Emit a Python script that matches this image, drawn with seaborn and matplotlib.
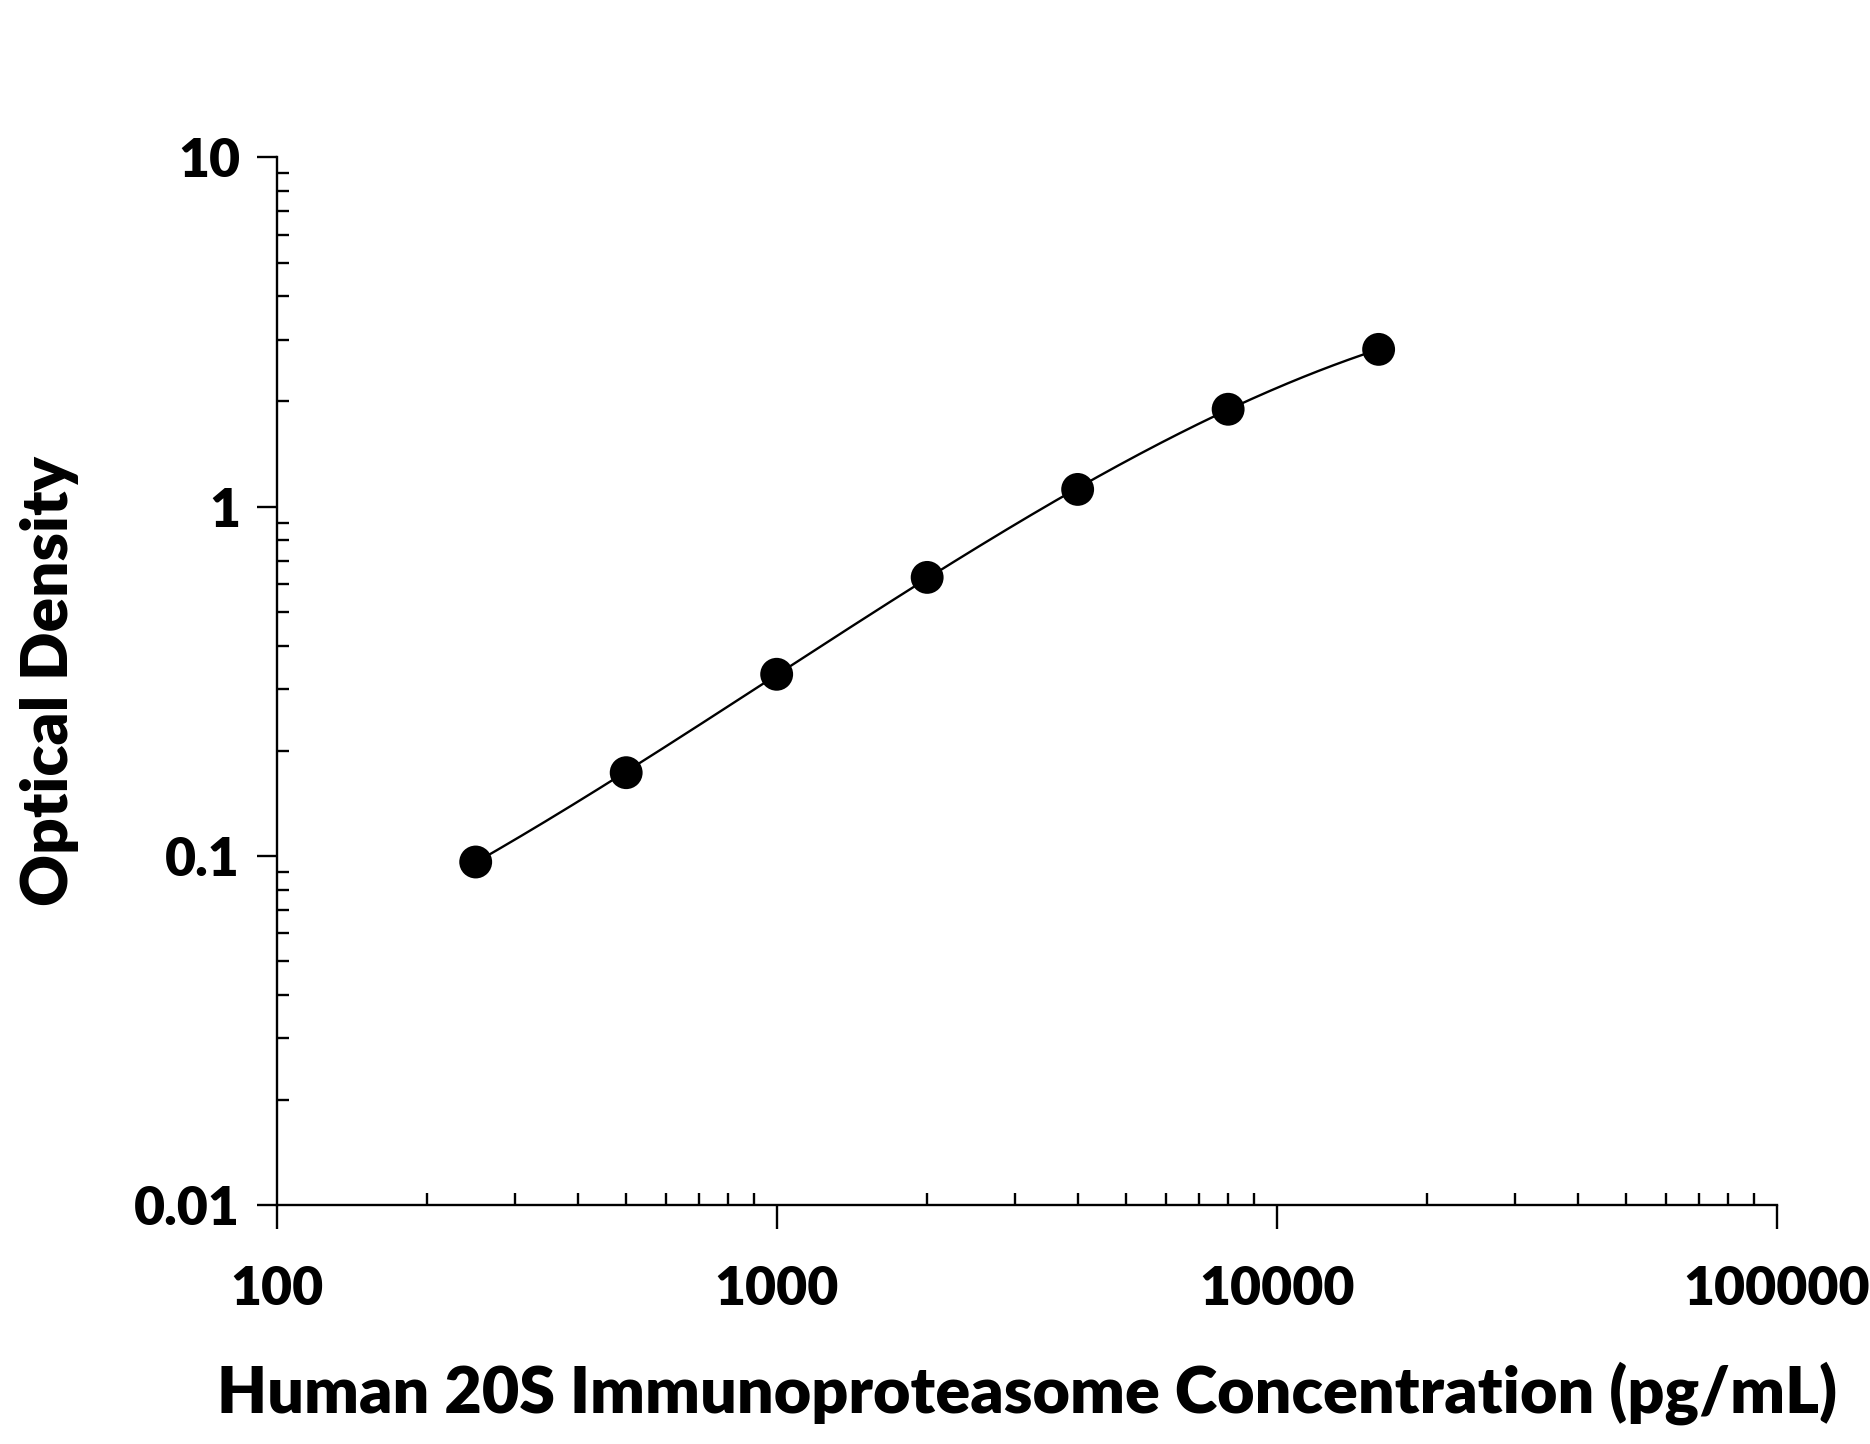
import numpy as np
import matplotlib
matplotlib.use("Agg")
import matplotlib.pyplot as plt
import seaborn as sns
from matplotlib.ticker import LogLocator, FixedLocator, NullFormatter

# ----- data -----
concentration = [250, 500, 1000, 2000, 4000, 8000, 16000]  # pg/mL
optical_density = [0.096, 0.173, 0.331, 0.627, 1.12, 1.90, 2.82]

x_ticks = [100, 1000, 10000, 100000]
x_tick_labels = ["100", "1000", "10000", "100000"]
y_ticks = [0.01, 0.1, 1, 10]
y_tick_labels = ["0.01", "0.1", "1", "10"]

x_label = "Human 20S Immunoproteasome Concentration (pg/mL)"
y_label = "Optical Density"

sns.set_style("ticks")
plt.rcParams["font.family"] = ["Lato", "DejaVu Sans"]
plt.rcParams["text.color"] = "black"
plt.rcParams["axes.labelcolor"] = "black"
plt.rcParams["xtick.color"] = "black"
plt.rcParams["ytick.color"] = "black"

fig = plt.figure(figsize=(18.7, 14.44), dpi=100)
ax = fig.add_axes([0.148, 0.1655, 0.802, 0.7255])

# smooth standard curve: cubic fit in log-log space
lx = np.log10(concentration)
ly = np.log10(optical_density)
coef = np.polyfit(lx, ly, 3)
xs = np.linspace(lx[0], lx[-1], 300)
sns.lineplot(x=10 ** xs, y=10 ** np.polyval(coef, xs), ax=ax,
             color="black", linewidth=1.7, estimator=None, sort=False)
sns.scatterplot(x=concentration, y=optical_density, ax=ax,
                color="black", s=560, edgecolor="none", zorder=3)

ax.set_xscale("log")
ax.set_yscale("log")
ax.set_xlim(100, 100000)
ax.set_ylim(0.01, 10)

ax.xaxis.set_major_locator(FixedLocator(x_ticks))
ax.set_xticklabels(x_tick_labels)
ax.yaxis.set_major_locator(FixedLocator(y_ticks))
ax.set_yticklabels(y_tick_labels)
ax.xaxis.set_minor_locator(LogLocator(base=10, subs=np.arange(2, 10)))
ax.yaxis.set_minor_locator(LogLocator(base=10, subs=np.arange(2, 10)))
ax.xaxis.set_minor_formatter(NullFormatter())
ax.yaxis.set_minor_formatter(NullFormatter())

for side in ["top", "right"]:
    ax.spines[side].set_visible(False)
for side in ["left", "bottom"]:
    ax.spines[side].set_linewidth(1.7)
    ax.spines[side].set_color("black")

ax.tick_params(axis="x", which="major", direction="out", length=17,
               width=1.7, pad=26, labelsize=38.5)
ax.tick_params(axis="y", which="major", direction="out", length=14.5,
               width=1.7, pad=12, labelsize=38.5)
ax.tick_params(axis="both", which="minor", direction="in", length=8.5,
               width=1.7)
for lab in ax.get_xticklabels() + ax.get_yticklabels():
    lab.set_fontweight("heavy")

ax.set_xlabel(x_label, fontsize=46.5, fontweight="heavy", labelpad=34)
ax.set_ylabel(y_label, fontsize=46, fontweight="heavy", labelpad=40)

fig.savefig("out.png", dpi=100, facecolor="white")
